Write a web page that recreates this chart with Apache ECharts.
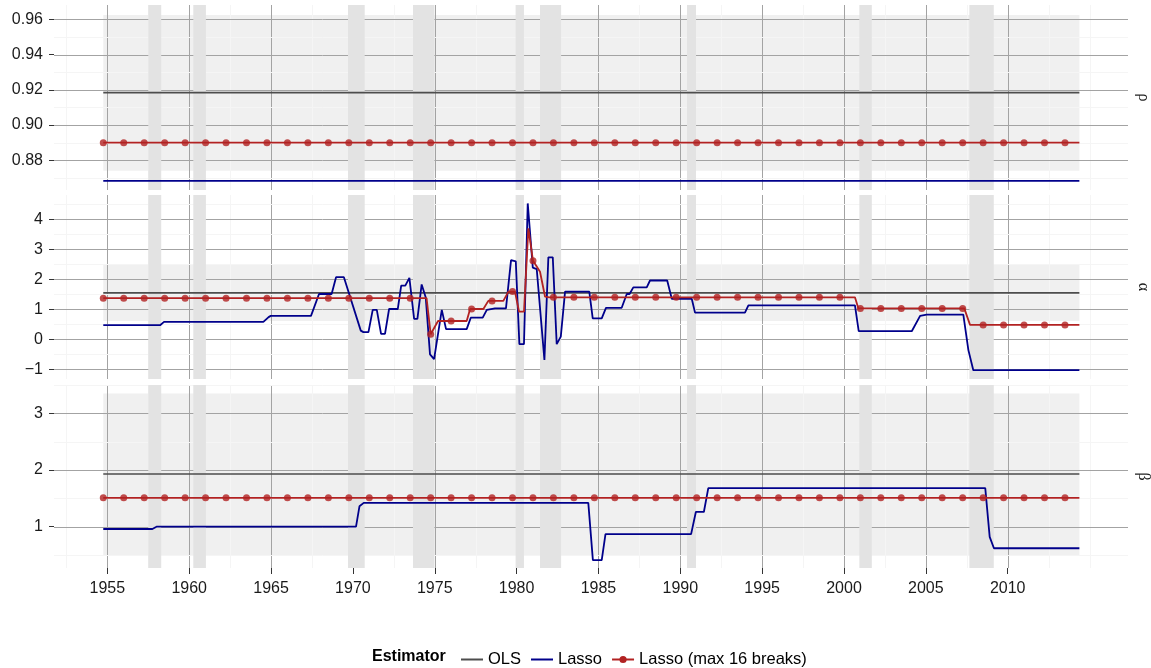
<!DOCTYPE html>
<html>
<head>
<meta charset="utf-8">
<title>Estimator</title>
<script src="https://cdn.jsdelivr.net/npm/echarts@6/dist/echarts.min.js"></script>
<style>
  html, body { margin: 0; padding: 0; background: #fff; }
  #chart { width: 1151px; height: 668px; }
</style>
</head>
<body>
<div id="chart"></div>
<script>
// estimation sample (years, quarterly)
var sampleStart = 1954.75;
var sampleEnd = 2014.38;

// x axis breaks
var xMajor = [1955, 1960, 1965, 1970, 1975, 1980, 1985, 1990, 1995, 2000, 2005, 2010];
var xMinor = [1952.5, 1957.5, 1962.5, 1967.5, 1972.5, 1977.5, 1982.5, 1987.5, 1992.5, 1997.5, 2002.5, 2007.5, 2012.5, 2015];

// recessions (shaded)
var recStart = [1957.5, 1960.25, 1969.7, 1973.67, 1979.94, 1981.43, 1990.41, 2000.94, 2007.66];
var recEnd = [1958.29, 1961.02, 1970.72, 1974.98, 1980.45, 1982.72, 1990.96, 2001.7, 2009.15];

// facets
var panelNames = ['ρ', 'α', 'β'];
var rhoMajor = [0.88, 0.90, 0.92, 0.94, 0.96];
var rhoMinor = [0.87, 0.89, 0.91, 0.93, 0.95];
var alphaMajor = [-1, 0, 1, 2, 3, 4];
var alphaMinor = [-0.5, 0.5, 1.5, 2.5, 3.5, 4.5];
var betaMajor = [1, 2, 3];
var betaMinor = [0.5, 1.5, 2.5, 3.5];

// OLS estimate and its band
var olsValues = [0.9184, 1.55, 1.93];
var bandLow = [0.8741, 0.61, 0.50];
var bandHigh = [0.9624, 2.51, 3.35];

// Lasso path (year, value)
var rhoLasso = [[1954.75, 0.8683], [2014.38, 0.8683]];
var alphaLasso = [
  [1954.75, 0.47], [1958.22, 0.47], [1958.46, 0.58], [1964.53, 0.58], [1964.85, 0.74], [1964.98, 0.78],
  [1967.44, 0.78], [1967.93, 1.51], [1968.7, 1.51], [1968.97, 2.07], [1969.45, 2.07], [1970.48, 0.29],
  [1970.64, 0.24], [1970.95, 0.24], [1971.21, 0.98], [1971.46, 0.98], [1971.72, 0.18], [1971.96, 0.18],
  [1972.21, 1.01], [1972.74, 1.01], [1972.95, 1.79], [1973.2, 1.79], [1973.45, 2.05], [1973.74, 0.68],
  [1973.94, 0.68], [1974.2, 1.83], [1974.45, 1.39], [1974.71, -0.5], [1974.96, -0.66], [1975.43, 0.98],
  [1975.69, 0.34], [1976.95, 0.34], [1977.2, 0.72], [1977.93, 0.72], [1978.18, 0.98], [1978.68, 1.03],
  [1979.35, 1.03], [1979.66, 2.64], [1979.95, 2.6], [1980.17, -0.16], [1980.45, -0.16], [1980.68, 4.53],
  [1980.99, 2.39], [1981.23, 2.34], [1981.7, -0.69], [1981.94, 2.73], [1982.21, 2.73], [1982.45, -0.16],
  [1982.7, 0.09], [1982.96, 1.59], [1984.44, 1.59], [1984.65, 0.7], [1985.2, 0.7], [1985.46, 1.05],
  [1986.42, 1.05], [1986.73, 1.51], [1986.9, 1.51], [1987.13, 1.73], [1987.95, 1.73], [1988.15, 1.96],
  [1989.2, 1.96], [1989.48, 1.35], [1990.7, 1.35], [1990.9, 0.89], [1993.95, 0.89], [1994.16, 1.13],
  [2000.67, 1.13], [2000.9, 0.27], [2004.14, 0.27], [2004.65, 0.78], [2005.05, 0.82], [2007.29, 0.82],
  [2007.6, -0.36], [2007.9, -1.03], [2014.38, -1.03]
];
var betaLasso = [
  [1954.75, 0.96], [1957.75, 0.96], [1958.0, 1.0], [1970.19, 1.0], [1970.4, 1.36], [1970.66, 1.42],
  [1984.38, 1.42], [1984.66, 0.41], [1985.2, 0.41], [1985.43, 0.87], [1990.66, 0.87], [1990.95, 1.26],
  [1991.44, 1.26], [1991.71, 1.68], [2008.63, 1.68], [2008.9, 0.82], [2009.16, 0.62], [2014.38, 0.62]
];

// Lasso (max 16 breaks) path
var rhoRed = [[1954.75, 0.89], [2014.38, 0.89]];
var alphaRed = [
  [1954.75, 1.37], [1974.5, 1.37], [1974.75, 0.17], [1975.2, 0.61], [1976.95, 0.61], [1977.16, 1.01],
  [1977.97, 1.01], [1978.27, 1.28], [1979.19, 1.28], [1979.5, 1.59], [1979.9, 1.59], [1980.15, 0.92],
  [1980.45, 0.92], [1980.72, 3.7], [1981.0, 2.62], [1981.2, 2.45], [1981.43, 2.25], [1981.74, 1.42],
  [1982.0, 1.40], [2000.67, 1.40], [2000.88, 1.03], [2007.35, 1.03], [2007.7, 0.48], [2014.38, 0.48]
];
var betaRed = [[1954.75, 1.51], [2014.38, 1.51]];

// marker positions on the Lasso (max 16 breaks) path
var dotYears = [
  1954.75, 1956, 1957.25, 1958.5, 1959.75, 1961, 1962.25, 1963.5, 1964.75, 1966, 1967.25, 1968.5,
  1969.75, 1971, 1972.25, 1973.5, 1974.75, 1976, 1977.25, 1978.5, 1979.75, 1981, 1982.25, 1983.5,
  1984.75, 1986, 1987.25, 1988.5, 1989.75, 1991, 1992.25, 1993.5, 1994.75, 1996, 1997.25, 1998.5,
  1999.75, 2001, 2002.25, 2003.5, 2004.75, 2006, 2007.25, 2008.5, 2009.75, 2011, 2012.25, 2013.5
];
var rhoDots = [
  0.89, 0.89, 0.89, 0.89, 0.89, 0.89, 0.89, 0.89, 0.89, 0.89, 0.89, 0.89,
  0.89, 0.89, 0.89, 0.89, 0.89, 0.89, 0.89, 0.89, 0.89, 0.89, 0.89, 0.89,
  0.89, 0.89, 0.89, 0.89, 0.89, 0.89, 0.89, 0.89, 0.89, 0.89, 0.89, 0.89,
  0.89, 0.89, 0.89, 0.89, 0.89, 0.89, 0.89, 0.89, 0.89, 0.89, 0.89, 0.89
];
var alphaDots = [
  1.37, 1.37, 1.37, 1.37, 1.37, 1.37, 1.37, 1.37, 1.37, 1.37, 1.37, 1.37,
  1.37, 1.37, 1.37, 1.37, 0.17, 0.61, 1.01, 1.28, 1.59, 2.62, 1.40, 1.40,
  1.40, 1.40, 1.40, 1.40, 1.40, 1.40, 1.40, 1.40, 1.40, 1.40, 1.40, 1.40,
  1.40, 1.03, 1.03, 1.03, 1.03, 1.03, 1.03, 0.48, 0.48, 0.48, 0.48, 0.48
];
var betaDots = [
  1.51, 1.51, 1.51, 1.51, 1.51, 1.51, 1.51, 1.51, 1.51, 1.51, 1.51, 1.51,
  1.51, 1.51, 1.51, 1.51, 1.51, 1.51, 1.51, 1.51, 1.51, 1.51, 1.51, 1.51,
  1.51, 1.51, 1.51, 1.51, 1.51, 1.51, 1.51, 1.51, 1.51, 1.51, 1.51, 1.51,
  1.51, 1.51, 1.51, 1.51, 1.51, 1.51, 1.51, 1.51, 1.51, 1.51, 1.51, 1.51
];

var chart = echarts.init(document.getElementById('chart'), null, { renderer: 'canvas' });

var FONT = '"Liberation Sans", Arial, Helvetica, sans-serif';
var X_MIN = 1951.74, X_MAX = 2017.35;
var yMin = [0.86315, -1.323, 0.272];
var yMax = [0.96811, 4.81, 3.499];
var panels = [
  { top: 5, height: 185, major: rhoMajor, minor: rhoMinor, lasso: rhoLasso, red: rhoRed, dots: rhoDots, digits: 2 },
  { top: 195, height: 184, major: alphaMajor, minor: alphaMinor, lasso: alphaLasso, red: alphaRed, dots: alphaDots, digits: 0 },
  { top: 385, height: 183, major: betaMajor, minor: betaMinor, lasso: betaLasso, red: betaRed, dots: betaDots, digits: 0 }
];

var grids = [], xAxes = [], yAxes = [], series = [], graphics = [];

panels.forEach(function (p, i) {
  var last = i === panels.length - 1;
  grids.push({ left: 54, right: 23, top: p.top, height: p.height });

  xAxes.push({
    type: 'value', gridIndex: i, min: X_MIN, max: X_MAX,
    axisLine: { show: false },
    splitLine: { show: false },
    axisTick: { show: last, customValues: xMajor, length: 6, lineStyle: { color: '#333', width: 1 } },
    axisLabel: {
      show: last, customValues: xMajor, margin: 13,
      color: '#1a1a1a', fontSize: 16, fontFamily: FONT,
      formatter: function (v) { return String(Math.round(v)); }
    }
  });

  yAxes.push({
    type: 'value', gridIndex: i, min: yMin[i], max: yMax[i],
    axisLine: { show: false },
    splitLine: { show: false },
    axisTick: { show: true, customValues: p.major, length: 5, lineStyle: { color: '#333', width: 1 } },
    axisLabel: {
      customValues: p.major, margin: 11,
      color: '#1a1a1a', fontSize: 16, fontFamily: FONT,
      formatter: function (v) { return v.toFixed(p.digits).replace('-', '\u2212'); }
    }
  });

  // light band around the OLS estimate
  series.push({
    type: 'custom', xAxisIndex: i, yAxisIndex: i, z: 1, silent: true, clip: false,
    data: [[sampleStart, bandLow[i], sampleEnd, bandHigh[i]]],
    renderItem: function (params, api) {
      var a = api.coord([api.value(0), api.value(3)]);
      var b = api.coord([api.value(2), api.value(1)]);
      return { type: 'rect', shape: { x: a[0], y: a[1], width: b[0] - a[0], height: b[1] - a[1] }, style: { fill: '#f0f0f0' } };
    }
  });

  // grid lines: kind 0 = minor x, 1 = major x, 2 = minor y, 3 = major y
  var gl = [];
  xMinor.forEach(function (v) { gl.push([v, 0]); });
  xMajor.forEach(function (v) { gl.push([v, 1]); });
  p.minor.forEach(function (v) { gl.push([v, 2]); });
  p.major.forEach(function (v) { gl.push([v, 3]); });
  series.push({
    type: 'custom', xAxisIndex: i, yAxisIndex: i, z: 2, silent: true, clip: false,
    data: gl,
    renderItem: function (params, api) {
      var cs = params.coordSys;
      var v = api.value(0), kind = api.value(1);
      var color = (kind === 1 || kind === 3) ? '#a3a3a3' : '#f5f5f5';
      var shape;
      if (kind < 2) {
        var x = Math.round(api.coord([v, yMin[i]])[0]) + 0.5;
        shape = { x1: x, y1: cs.y, x2: x, y2: cs.y + cs.height };
      } else {
        var y = Math.round(api.coord([X_MIN, v])[1]) + 0.5;
        shape = { x1: cs.x, y1: y, x2: cs.x + cs.width, y2: y };
      }
      return { type: 'line', shape: shape, style: { stroke: color, lineWidth: 1 } };
    }
  });

  // recessions, drawn over the grid lines
  series.push({
    type: 'custom', xAxisIndex: i, yAxisIndex: i, z: 3, silent: true, clip: false,
    data: recStart.map(function (s, k) { return [s, recEnd[k]]; }),
    renderItem: function (params, api) {
      var cs = params.coordSys;
      var x0 = api.coord([api.value(0), yMin[i]])[0];
      var x1 = api.coord([api.value(1), yMin[i]])[0];
      return { type: 'rect', shape: { x: x0, y: cs.y, width: x1 - x0, height: cs.height }, style: { fill: '#e3e3e3' } };
    }
  });

  series.push({
    name: 'OLS', type: 'line', xAxisIndex: i, yAxisIndex: i, z: 4, symbol: 'none',
    data: [[sampleStart, olsValues[i]], [sampleEnd, olsValues[i]]],
    lineStyle: { color: '#4d4d4d', width: 1.7 }, itemStyle: { color: '#4d4d4d' }
  });
  series.push({
    name: 'Lasso', type: 'line', xAxisIndex: i, yAxisIndex: i, z: 5, symbol: 'none',
    data: p.lasso,
    lineStyle: { color: '#00008b', width: 1.8 }, itemStyle: { color: '#00008b' }
  });
  series.push({
    name: 'Lasso (max 16 breaks)', type: 'line', xAxisIndex: i, yAxisIndex: i, z: 6,
    symbol: 'circle', symbolSize: 7, showSymbol: false,
    data: p.red,
    lineStyle: { color: '#b22222', width: 1.8 }, itemStyle: { color: '#b22222' }
  });
  series.push({
    name: 'Lasso (max 16 breaks)', type: 'scatter', xAxisIndex: i, yAxisIndex: i, z: 7,
    symbol: 'circle', symbolSize: 7,
    data: dotYears.map(function (yr, k) { return [yr, p.dots[k]]; }),
    itemStyle: { color: '#b22222' }
  });

  // facet strip label
  graphics.push({
    type: 'text', x: 1143, y: p.top + p.height / 2, rotation: -Math.PI / 2,
    style: { text: panelNames[i], fill: '#222', font: '16px "Liberation Serif", "DejaVu Serif", serif', align: 'center', verticalAlign: 'middle' }
  });
});

graphics.push({
  type: 'text', left: 372, top: 649,
  style: { text: 'Estimator', fill: '#000', font: 'bold 16px ' + FONT }
});

chart.setOption({
  animation: false,
  backgroundColor: '#fff',
  grid: grids,
  xAxis: xAxes,
  yAxis: yAxes,
  legend: {
    left: 455, top: 646,
    itemWidth: 22, itemHeight: 9, itemGap: 9,
    selectedMode: false,
    textStyle: { color: '#000', fontSize: 16.5, fontFamily: FONT },
    data: [
      { name: 'OLS', itemStyle: { color: 'rgba(0,0,0,0)', borderWidth: 0 } },
      { name: 'Lasso', itemStyle: { color: 'rgba(0,0,0,0)', borderWidth: 0 } },
      { name: 'Lasso (max 16 breaks)' }
    ]
  },
  graphic: graphics,
  series: series
});
</script>
</body>
</html>
